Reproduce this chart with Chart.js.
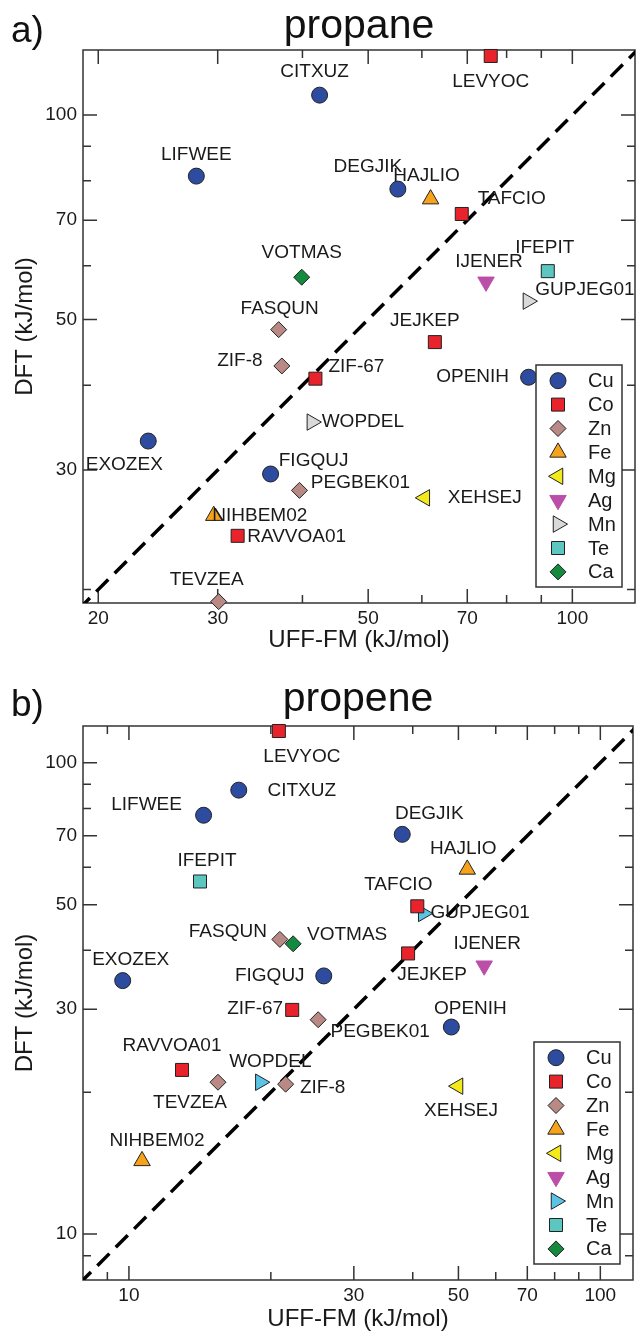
<!DOCTYPE html>
<html>
<head>
<meta charset="utf-8">
<script src="https://cdn.jsdelivr.net/npm/chart.js@4.4.1/dist/chart.umd.min.js"></script>
<style>
  html, body { margin: 0; padding: 0; background: #fff; }
  canvas { display: block; }
</style>
</head>
<body>
<canvas id="chartA" width="639" height="665"></canvas>
<canvas id="chartB" width="639" height="666"></canvas>
<script>
const metals = ['Cu', 'Co', 'Zn', 'Fe', 'Mg', 'Ag', 'Mn', 'Te', 'Ca'];

// a) propane
const namesA = ['CITXUZ', 'LEVYOC', 'LIFWEE', 'DEGJIK', 'HAJLIO', 'TAFCIO', 'VOTMAS', 'IFEPIT', 'IJENER', 'GUPJEG01', 'FASQUN', 'JEJKEP',
                'ZIF-8', 'ZIF-67', 'OPENIH', 'WOPDEL', 'EXOZEX', 'FIGQUJ', 'PEGBEK01', 'XEHSEJ', 'NIHBEM02', 'RAVVOA01', 'TEVZEA'];
const metalA = ['Cu', 'Co', 'Cu', 'Cu', 'Fe', 'Co', 'Ca', 'Te', 'Ag', 'Mn', 'Zn', 'Co',
                'Zn', 'Co', 'Cu', 'Mn', 'Cu', 'Cu', 'Zn', 'Mg', 'Fe', 'Co', 'Zn'];
const uffA = [42.4, 75.8, 27.9, 55.3, 61.8, 68.7, 39.9, 92.0, 74.6, 86.0, 36.9, 62.7,
              37.3, 41.8, 86.2, 41.3, 23.7, 35.9, 39.6, 60.6, 29.6, 32.1, 30.1];
const dftA = [107.0, 122.2, 81.3, 77.8, 75.2, 71.5, 57.7, 58.9, 56.8, 53.2, 48.3, 46.3,
              42.7, 40.9, 41.1, 35.3, 33.1, 29.6, 28.0, 27.3, 25.7, 24.0, 19.2];

// b) propene
const namesB = ['LEVYOC', 'CITXUZ', 'LIFWEE', 'DEGJIK', 'HAJLIO', 'IFEPIT', 'TAFCIO', 'GUPJEG01', 'FASQUN', 'VOTMAS', 'JEJKEP', 'IJENER',
                'EXOZEX', 'FIGQUJ', 'ZIF-67', 'PEGBEK01', 'OPENIH', 'RAVVOA01', 'TEVZEA', 'WOPDEL', 'ZIF-8', 'XEHSEJ', 'NIHBEM02'];
const metalB = ['Co', 'Cu', 'Cu', 'Cu', 'Fe', 'Te', 'Co', 'Mn', 'Zn', 'Ca', 'Co', 'Ag',
                'Cu', 'Cu', 'Co', 'Zn', 'Cu', 'Co', 'Zn', 'Mn', 'Zn', 'Mg', 'Fe'];
const uffB = [20.8, 17.1, 14.4, 38.0, 52.2, 14.15, 40.9, 42.1, 20.9, 22.3, 39.1, 56.7,
              9.7, 25.9, 22.2, 25.2, 48.3, 12.96, 15.45, 19.0, 21.5, 49.9, 10.66];
const dftB = [116.8, 87.5, 77.4, 70.5, 59.4, 56.0, 49.6, 47.9, 42.2, 41.3, 39.4, 37.1,
              34.5, 35.3, 29.9, 28.5, 27.5, 22.3, 21.0, 21.0, 20.8, 20.6, 14.3];

// tick values
const xMajorA = [20, 30, 50, 70, 100];
const xMinorA = [40, 60, 80, 90];
const yMajorA = [30, 50, 70, 100];
const yMinorA = [20, 40, 60, 80, 90];
const xMajorB = [10, 30, 50, 70, 100];
const xMinorB = [9, 20, 40, 60, 80, 90];
const yMajorB = [10, 30, 50, 70, 100];
const yMinorB = [9, 20, 40, 60, 80, 90];

// label offsets in px (text centre relative to marker)
const offsetsA = [[-5, -23], [0, 26], [0, -21], [-30, -22], [-4, -23], [50, -15], [0, -24], [-3, -23], [3, -20], [57, -11], [1, -21], [-10, -21],
                  [-42, -5], [41, -12], [-56, 0], [51, 0], [-24, 24], [43, -13], [61, -8], [60, 0], [46, 0], [59, 1], [-12, -22]];
const offsetsB = [[23, 26], [63, 1], [-57, -10], [27, -21], [-4, -21], [7, -21], [-19, -22], [57, -1], [-52, -8], [54, -9], [24, 21], [3, -22],
                  [8, -21], [-54, 0], [-37, -1], [62, 12], [19, -18], [-10, -24], [-28, 21], [10, -20], [37, 4], [3, 25], [15, -20]];

const FONT = "'Liberation Sans', Arial, Helvetica, sans-serif";
Chart.defaults.font.family = FONT;
Chart.defaults.color = '#1a1a1a';

const metalStyle = {
    Cu: { color: '#2E4C9F', shape: 'circle', rot: 0, r: 8 },
    Co: { color: '#E8232B', shape: 'rect', rot: 0, r: 9.2 },
    Zn: { color: '#B98A85', shape: 'rectRot', rot: 0, r: 8 },
    Fe: { color: '#F7A21B', shape: 'triangle', rot: 0, r: 9.5 },
    Mg: { color: '#F4E919', shape: 'triangle', rot: 270, r: 9.5 },
    Ag: { color: '#BB4FA8', shape: 'triangle', rot: 180, r: 9.5, edge: '#BB4FA8' },
    Mn: { color: '#D9D9D9', shape: 'triangle', rot: 90, r: 9.5 },
    Te: { color: '#5CC6C0', shape: 'rect', rot: 0, r: 9.2 },
    Ca: { color: '#138A3E', shape: 'rectRot', rot: 0, r: 8 }
};

function buildDatasets(names, metal, uff, dft, offsets, diag, mnColor) {
    const sets = metals.map(m => {
        const st = metalStyle[m];
        const data = [];
        names.forEach((n, i) => {
            if (metal[i] === m) data.push({ x: uff[i], y: dft[i], name: n, dx: offsets[i][0], dy: offsets[i][1] });
        });
        const fill = (m === 'Mn' && mnColor) ? mnColor : st.color;
        return {
            label: m,
            metal: m,
            data: data,
            pointStyle: st.shape,
            pointRotation: st.rot,
            pointRadius: st.r,
            backgroundColor: fill,
            borderColor: st.edge || '#222',
            borderWidth: 1,
            clip: false,
            order: 1
        };
    });
    sets.push({
        type: 'line',
        label: 'diag',
        data: diag.map(v => ({ x: v, y: v })),
        borderColor: '#000',
        borderWidth: 3.5,
        borderDash: [17, 9],
        pointRadius: 0,
        clip: 0,
        order: 10
    });
    return sets;
}

const frameTicks = {
    id: 'frameTicks',
    beforeDatasetsDraw(chart, args, opts) {
        const { ctx, chartArea: a, scales } = chart;
        ctx.save();
        ctx.strokeStyle = '#333';
        ctx.lineWidth = 1.5;
        ctx.strokeRect(a.left, a.top, a.right - a.left, a.bottom - a.top);
        const tick = (vals, len) => {
            vals.x.forEach(v => {
                const px = scales.x.getPixelForValue(v);
                ctx.beginPath();
                ctx.moveTo(px, a.bottom); ctx.lineTo(px, a.bottom - len);
                ctx.moveTo(px, a.top); ctx.lineTo(px, a.top + len);
                ctx.stroke();
            });
            vals.y.forEach(v => {
                const py = scales.y.getPixelForValue(v);
                ctx.beginPath();
                ctx.moveTo(a.left, py); ctx.lineTo(a.left + len, py);
                ctx.moveTo(a.right, py); ctx.lineTo(a.right - len, py);
                ctx.stroke();
            });
        };
        tick({ x: opts.xMajor, y: opts.yMajor }, 14);
        tick({ x: opts.xMinor, y: opts.yMinor }, 8);
        ctx.restore();
    }
};

const pointNames = {
    id: 'pointNames',
    afterDatasetsDraw(chart) {
        const ctx = chart.ctx;
        ctx.save();
        ctx.font = '19px ' + FONT;
        ctx.fillStyle = '#1a1a1a';
        ctx.textAlign = 'center';
        ctx.textBaseline = 'middle';
        chart.data.datasets.forEach((ds, di) => {
            if (!ds.metal) return;
            chart.getDatasetMeta(di).data.forEach((el, i) => {
                const p = ds.data[i];
                ctx.fillText(p.name, el.x + p.dx, el.y + p.dy);
            });
        });
        ctx.restore();
    }
};

function drawMarker(ctx, opts, x, y) {
    if (Chart.helpers && Chart.helpers.drawPoint) {
        Chart.helpers.drawPoint(ctx, opts, x, y);
        return;
    }
    ctx.beginPath();
    ctx.arc(x, y, opts.radius, 0, Math.PI * 2);
    ctx.fill();
    ctx.stroke();
}

const legendBox = {
    id: 'legendBox',
    afterDraw(chart) {
        const { ctx, chartArea: a } = chart;
        const w = 86, h = 222;
        const left = a.right - 13 - w, top = a.bottom - 16 - h;
        ctx.save();
        ctx.fillStyle = '#fff';
        ctx.fillRect(left, top, w, h);
        ctx.strokeStyle = '#333';
        ctx.lineWidth = 1.5;
        ctx.strokeRect(left, top, w, h);
        let k = 0;
        chart.data.datasets.forEach(ds => {
            if (!ds.metal) return;
            const y = top + 15.7 + k * 23.9;
            ctx.fillStyle = ds.backgroundColor;
            ctx.strokeStyle = ds.borderColor;
            ctx.lineWidth = 1;
            drawMarker(ctx, { pointStyle: ds.pointStyle, rotation: ds.pointRotation, radius: ds.pointRadius, borderWidth: 1 }, left + 22, y);
            ctx.fillStyle = '#1a1a1a';
            ctx.font = '20px ' + FONT;
            ctx.textAlign = 'left';
            ctx.textBaseline = 'middle';
            ctx.fillText(ds.label, left + 52, y + 1);
            k++;
        });
        ctx.restore();
    }
};

const panelText = {
    id: 'panelText',
    afterDraw(chart, args, opts) {
        const { ctx, chartArea: a } = chart;
        ctx.save();
        ctx.fillStyle = '#111';
        ctx.textBaseline = 'alphabetic';
        ctx.font = '37px ' + FONT;
        ctx.textAlign = 'left';
        ctx.fillText(opts.tag, 11, opts.tagY);
        ctx.font = '41px ' + FONT;
        ctx.textAlign = 'center';
        ctx.fillText(opts.title, (a.left + a.right) / 2, opts.titleY);
        ctx.restore();
    }
};

function makePanel(id, p) {
    new Chart(document.getElementById(id), {
        type: 'scatter',
        data: { datasets: p.datasets },
        plugins: [frameTicks, pointNames, legendBox, panelText],
        options: {
            responsive: false,
            animation: false,
            layout: { autoPadding: false, padding: { left: 0, right: p.padRight, top: p.padTop, bottom: 0 } },
            plugins: {
                legend: { display: false },
                tooltip: { enabled: false },
                frameTicks: { xMajor: p.xMajor, xMinor: p.xMinor, yMajor: p.yMajor, yMinor: p.yMinor },
                panelText: { tag: p.tag, title: p.title, tagY: p.tagY, titleY: p.titleY }
            },
            scales: {
                x: {
                    type: 'logarithmic',
                    min: p.xMin, max: p.xMax,
                    grid: { display: false, drawTicks: false },
                    border: { display: false },
                    afterBuildTicks: s => { s.ticks = p.xMajor.map(v => ({ value: v })); },
                    afterFit: s => { s.height = p.xHeight; s.paddingLeft = 0; s.paddingRight = 0; },
                    ticks: { font: { size: 19 }, color: '#1a1a1a', padding: 4, maxRotation: 0, autoSkip: false, callback: v => String(v) },
                    title: { display: true, text: 'UFF-FM (kJ/mol)', font: { size: 24, lineHeight: 1 }, color: '#1a1a1a', padding: { top: 0, bottom: p.xTitlePad } }
                },
                y: {
                    type: 'logarithmic',
                    min: p.yMin, max: p.yMax,
                    grid: { display: false, drawTicks: false },
                    border: { display: false },
                    afterBuildTicks: s => { s.ticks = p.yMajor.map(v => ({ value: v })); },
                    afterFit: s => { s.width = 83; s.paddingTop = 0; s.paddingBottom = 0; },
                    ticks: { font: { size: 19 }, color: '#1a1a1a', padding: 6, autoSkip: false, callback: v => String(v) },
                    title: { display: true, text: 'DFT (kJ/mol)', font: { size: 24, lineHeight: 1 }, color: '#1a1a1a', padding: { top: 13, bottom: 0 } }
                }
            }
        }
    });
}

makePanel('chartA', {
    datasets: buildDatasets(namesA, metalA, uffA, dftA, offsetsA, [10, 200]),
    xMajor: xMajorA, xMinor: xMinorA, yMajor: yMajorA, yMinor: yMinorA,
    xMin: 18.99, xMax: 123.7, yMin: 19.11, yMax: 124.7,
    padTop: 50, padRight: 4, xHeight: 62, xTitlePad: 13,
    tag: 'a)', title: 'propane', tagY: 42, titleY: 38
});

makePanel('chartB', {
    datasets: buildDatasets(namesB, metalB, uffB, dftB, offsetsB, [5, 200], '#5BC4E5'),
    xMajor: xMajorB, xMinor: xMinorB, yMajor: yMajorB, yMinor: yMinorB,
    xMin: 7.99, xMax: 117.3, yMin: 7.99, yMax: 119.7,
    padTop: 61, padRight: 6, xHeight: 51, xTitlePad: 0,
    tag: 'b)', title: 'propene', tagY: 51, titleY: 46
});
</script>
</body>
</html>
